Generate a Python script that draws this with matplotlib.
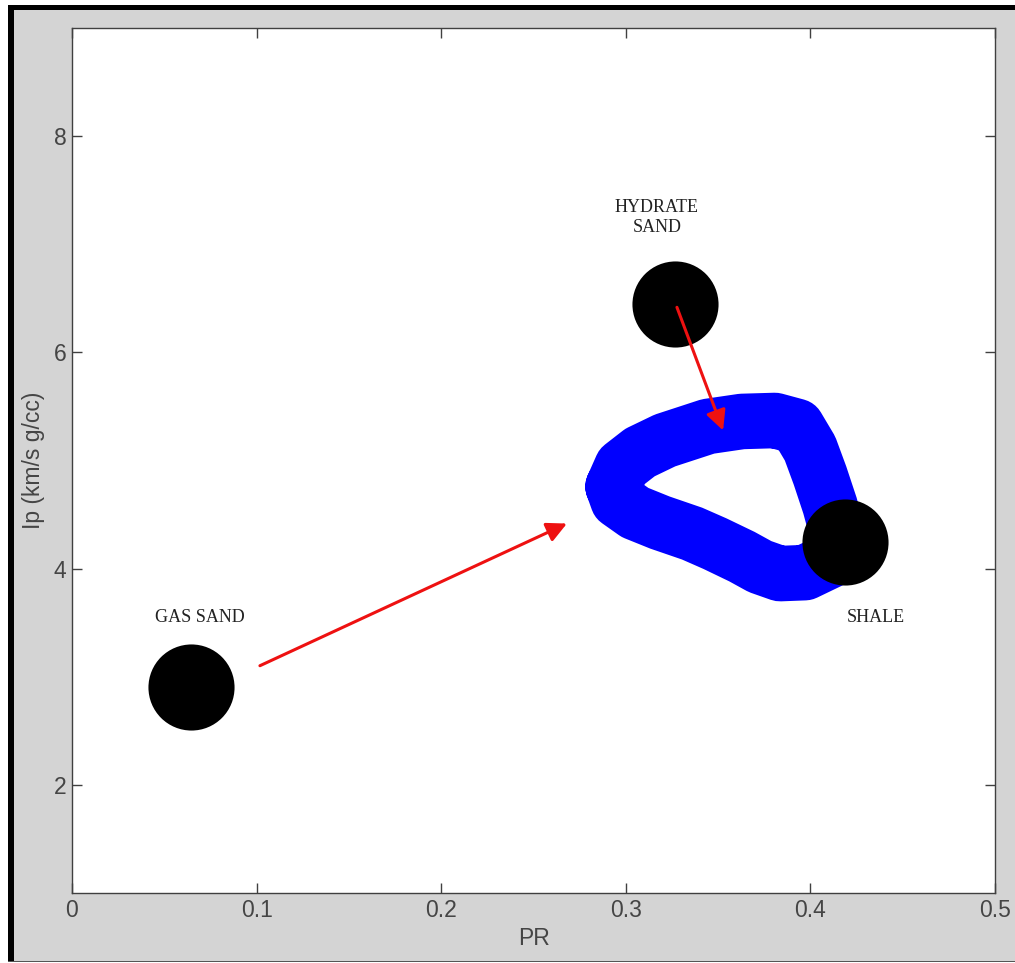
import matplotlib
matplotlib.use("Agg")
import matplotlib.pyplot as plt
from matplotlib.patches import Rectangle

# ---- data ----
point_names = ["GAS SAND", "HYDRATE\nSAND", "SHALE"]
point_x = [0.0642, 0.3269, 0.4187]
point_y = [2.907, 6.444, 4.250]

label_x = [0.0693, 0.3169, 0.4355]
label_y = [3.546, 7.25, 3.546]

loop_x = [0.2931, 0.2979, 0.3077, 0.3212, 0.3445, 0.3629, 0.3808, 0.3927,
          0.3998, 0.4052, 0.4106, 0.4150, 0.4106, 0.3971, 0.3835, 0.3727,
          0.3629, 0.3483, 0.3359, 0.3185, 0.3050, 0.2958, 0.2931]
loop_y = [4.759, 4.944, 5.074, 5.185, 5.315, 5.361, 5.370, 5.315,
          5.111, 4.861, 4.583, 4.306, 4.074, 3.963, 3.954, 4.019,
          4.111, 4.231, 4.324, 4.426, 4.519, 4.630, 4.759]

arrow_start_x = [0.1018, 0.3277]
arrow_start_y = [3.102, 6.417]
arrow_end_x = [0.2681, 0.3527]
arrow_end_y = [4.417, 5.278]

x_ticks = [0, 0.1, 0.2, 0.3, 0.4, 0.5]
x_tick_labels = ["0", "0.1", "0.2", "0.3", "0.4", "0.5"]
y_ticks = [2, 4, 6, 8]
y_tick_labels = ["2", "4", "6", "8"]
x_label = "PR"
y_label = "Ip (km/s g/cc)"

# ---- figure ----
W, H = 1015, 963
fig = plt.figure(figsize=(W / 100, H / 100), dpi=100, facecolor="white")

# grey window background and frame
fig.patches.append(Rectangle((10 / W, 1 - 961 / H), (W - 10) / W, (961 - 7) / H,
                             transform=fig.transFigure, facecolor="#d4d4d4",
                             edgecolor="none", zorder=-10))
fig.patches.append(Rectangle((8 / W, 1 - 961 / H), 6 / W, (961 - 5) / H,
                             transform=fig.transFigure, facecolor="black",
                             edgecolor="none", zorder=-9))
fig.patches.append(Rectangle((8 / W, 1 - 10 / H), (W - 8) / W, 5 / H,
                             transform=fig.transFigure, facecolor="black",
                             edgecolor="none", zorder=-9))
fig.patches.append(Rectangle((8 / W, 1 - 962 / H), (W - 8) / W, 1.5 / H,
                             transform=fig.transFigure, facecolor="#555555",
                             edgecolor="none", zorder=-9))

ax = fig.add_axes([72 / W, 1 - 893 / H, (995 - 72) / W, (893 - 28) / H])
ax.set_facecolor("white")
ax.set_xlim(0, 0.5)
ax.set_ylim(1, 9)

axis_col = "#404040"
for s in ax.spines.values():
    s.set_color(axis_col)
    s.set_linewidth(1.0)

ax.set_xticks(x_ticks)
ax.set_xticklabels(x_tick_labels)
ax.set_yticks(y_ticks)
ax.set_yticklabels(y_tick_labels)
ax.tick_params(direction="in", length=7.5, width=1.0, color=axis_col,
               top=True, right=True, labelsize=16.5, labelcolor="#454545",
               pad=4)
for lab in ax.get_xticklabels() + ax.get_yticklabels():
    lab.set_fontfamily("Liberation Sans")

ax.set_xlabel(x_label, fontsize=16.5, color="#454545",
              fontfamily="Liberation Sans", labelpad=4)
ax.set_ylabel(y_label, fontsize=16.5, color="#454545",
              fontfamily="Liberation Sans", labelpad=6)

# blue loop
ax.plot(loop_x, loop_y, color="#0000ff", lw=40, solid_joinstyle="round",
        solid_capstyle="round", zorder=2)

# black circles
ax.plot(point_x, point_y, "o", color="black", markersize=62,
        markeredgewidth=0, zorder=3)

# labels
for name, lx, ly in zip(point_names, label_x, label_y):
    ax.text(lx, ly, name, ha="center", va="center", fontsize=13,
            fontfamily="Liberation Serif", color="#222222",
            linespacing=1.25, zorder=5)

# red arrows
for sx, sy, ex, ey in zip(arrow_start_x, arrow_start_y, arrow_end_x, arrow_end_y):
    ax.annotate("", xy=(ex, ey), xytext=(sx, sy),
                arrowprops=dict(arrowstyle="-|>", color="#ee1111", lw=2.2,
                                mutation_scale=30, shrinkA=0, shrinkB=0),
                zorder=4)

fig.savefig("out.png", dpi=100, facecolor=fig.get_facecolor())
